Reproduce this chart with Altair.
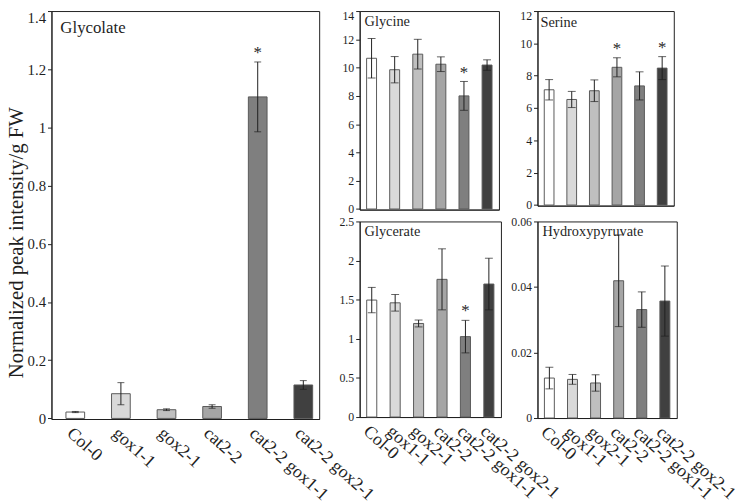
import altair as alt
import pandas as pd

FONT = "Liberation Serif"
INK = "#1f1f1f"

categories = ["Col-0", "gox1-1", "gox2-1", "cat2-2", "cat2-2 gox1-1", "cat2-2 gox2-1"]
bar_colors = ["#ffffff", "#d9d9d9", "#bfbfbf", "#a5a5a5", "#7f7f7f", "#404040"]

y_title = "Normalized peak intensity/g FW"

glycolate_mean = [0.022, 0.085, 0.030, 0.041, 1.105, 0.115]
glycolate_err = [0.002, 0.038, 0.003, 0.006, 0.120, 0.015]
glycolate_sig = [0, 0, 0, 0, 1, 0]
glycolate_ticks = [0, 0.2, 0.4, 0.6, 0.8, 1.0, 1.2, 1.4]

glycine_mean = [10.66, 9.85, 10.95, 10.24, 8.00, 10.18]
glycine_err = [1.40, 0.93, 1.05, 0.52, 1.02, 0.37]
glycine_sig = [0, 0, 0, 0, 1, 0]
glycine_ticks = [0, 2, 4, 6, 8, 10, 12, 14]

serine_mean = [7.13, 6.53, 7.07, 8.52, 7.37, 8.47]
serine_err = [0.63, 0.50, 0.67, 0.59, 0.87, 0.71]
serine_sig = [0, 0, 0, 1, 0, 1]
serine_ticks = [0, 2, 4, 6, 8, 10, 12]

glycerate_mean = [1.495, 1.460, 1.196, 1.760, 1.028, 1.700]
glycerate_err = [0.162, 0.106, 0.044, 0.390, 0.208, 0.330]
glycerate_sig = [0, 0, 0, 0, 1, 0]
glycerate_ticks = [0, 0.5, 1.0, 1.5, 2.0, 2.5]

hydroxy_mean = [0.0122, 0.0118, 0.0107, 0.0419, 0.0331, 0.0357]
hydroxy_err = [0.0033, 0.0015, 0.0025, 0.0140, 0.0054, 0.0107]
hydroxy_sig = [0, 0, 0, 0, 0, 0]
hydroxy_ticks = [0, 0.02, 0.04, 0.06]


def panel(name, mean, err, sig, ticks, dom_min, width, height, *, main=False,
          show_x=True, flush=False, title_x=5, title_y=15.5, title_size=14.5,
          cap=8, tick_font=12, band=(0.57, 0.3, 0.5)):
    df = pd.DataFrame({"genotype": categories, "mean": mean, "err": err, "sig": sig})
    df["lo"] = df["mean"] - df["err"]
    df["hi"] = df["mean"] + df["err"]

    xscale = alt.Scale(domain=categories, paddingInner=band[0],
                       paddingOuter=band[1], align=band[2])
    xaxis = alt.Axis(title=None, labels=show_x, ticks=False, labelAngle=42,
                     labelAlign="left", labelBaseline="top", labelFont=FONT,
                     labelFontSize=18, labelPadding=5, labelColor=INK,
                     labelOverlap=False, labelLimit=400, domainColor=INK)
    x = alt.X("genotype:N", scale=xscale, axis=xaxis, sort=categories)

    yscale = alt.Scale(domain=[dom_min, ticks[-1]], nice=False, zero=False)
    yaxis_kw = dict(values=ticks, format="~g", grid=False, tickSize=4,
                    tickColor=INK, domainColor=INK, labelPadding=2,
                    labelFont=FONT, labelFontSize=tick_font, labelColor=INK,
                    labelFlush=0.5 if flush else False)
    if main:
        yaxis = alt.Axis(title=y_title, titleFont=FONT, titleFontSize=21,
                         titleFontWeight="normal", titleColor=INK,
                         titlePadding=1, titleY=234, **yaxis_kw)
    else:
        yaxis = alt.Axis(title=None, **yaxis_kw)

    def Y(field):
        return alt.Y(field, scale=yscale, axis=yaxis)

    base = alt.Chart(df)
    bars = base.mark_bar(stroke="#595959", strokeWidth=1).encode(
        x=x, y=Y("mean:Q"),
        color=alt.Color("genotype:N", scale=alt.Scale(domain=categories, range=bar_colors),
                        legend=None),
    )
    rule = base.mark_rule(color=INK, strokeWidth=1).encode(x=x, y=Y("lo:Q"), y2="hi:Q")
    caps = base.transform_fold(["lo", "hi"]).mark_tick(
        orient="horizontal", size=cap, thickness=1, color=INK
    ).encode(x=x, y=Y("value:Q"))
    stars = base.transform_filter("datum.sig == 1").mark_text(
        text="*", font=FONT, fontSize=17, baseline="alphabetic", dy=-4, fill=INK
    ).encode(x=x, y=Y("hi:Q"))
    title = alt.Chart(pd.DataFrame({"t": [name]})).mark_text(
        align="left", baseline="alphabetic", font=FONT, fontSize=title_size, fill=INK
    ).encode(text="t:N", x=alt.value(title_x), y=alt.value(title_y))

    return alt.layer(bars, rule, caps, stars, title).properties(width=width, height=height)


main = panel("Glycolate", glycolate_mean, glycolate_err, glycolate_sig, glycolate_ticks,
             -0.002, 271, 413, main=True, flush=True, title_x=9, title_y=22,
             title_size=17, cap=7, tick_font=15, band=(0.59, 0.23, 0.69))
glycine = panel("Glycine", glycine_mean, glycine_err, glycine_sig, glycine_ticks,
                -0.042, 141, 201, show_x=False, flush=True)
serine = panel("Serine", serine_mean, serine_err, serine_sig, serine_ticks,
               -0.037, 138, 197, show_x=False, flush=True, title_x=3, title_y=16.5)
glycerate = panel("Glycerate", glycerate_mean, glycerate_err, glycerate_sig, glycerate_ticks,
                  0, 143, 198, title_y=15)
hydroxy = panel("Hydroxypyruvate", hydroxy_mean, hydroxy_err, hydroxy_sig, hydroxy_ticks,
                0, 141, 199, title_y=14.5)

col1 = alt.vconcat(glycine, glycerate, spacing=12, bounds="flush")
col2 = alt.vconcat(serine, hydroxy, spacing=16, bounds="flush")
# in flush mode a nested concat counts as zero width, so the spacing spans column 1 too
right = alt.hconcat(col1, col2, spacing=143 + 37, bounds="flush")

chart = alt.hconcat(main, right, spacing=41, bounds="flush").properties(
    padding={"left": -4, "top": -2, "right": 0, "bottom": 0}
).configure(font=FONT).configure_axis(
    labelFont=FONT, titleFont=FONT
).configure_text(font=FONT).configure_view(stroke=INK, strokeWidth=1)

chart.save("out.html", embed_options={"renderer": "svg", "actions": False})
